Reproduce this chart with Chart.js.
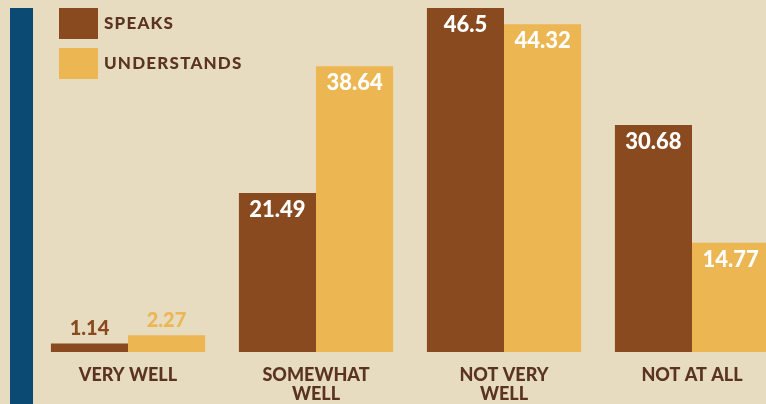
<!DOCTYPE html>
<html lang="en">
<head>
  <meta charset="UTF-8">
  <title>Speaks / Understands</title>
  <script src="https://cdn.jsdelivr.net/npm/chart.js"></script>
  <style>
    html, body { margin: 0; padding: 0; background: #e7dbc0; overflow: hidden; }
    .wrap { position: relative; width: 800px; height: 404px; }
  </style>
</head>
<body>
  <div class="wrap">
    <canvas id="grafico"></canvas>
  </div>

  <script>
    // datos
    const categorias = [["VERY WELL"], ["SOMEWHAT", "WELL"], ["NOT VERY", "WELL"], ["NOT AT ALL"]];
    const speaks = [1.14, 21.49, 46.5, 30.68];
    const understands = [2.27, 38.64, 44.32, 14.77];

    const marron = "#8a4a1f";
    const amarillo = "#ecb652";
    const texto = "#5a3421";
    const azul = "#0b4b73";

    // barra azul lateral
    const barraLateral = {
      id: "barraLateral",
      beforeDraw(chart) {
        const ctx = chart.ctx;
        ctx.save();
        ctx.fillStyle = azul;
        ctx.fillRect(10, 8, 23, chart.height - 8);
        ctx.restore();
      }
    };

    // leyenda a mano
    const leyenda = {
      id: "leyenda",
      afterDraw(chart) {
        const ctx = chart.ctx;
        ctx.save();
        chart.data.datasets.forEach((ds, i) => {
          const y = 8 + i * 40;
          ctx.fillStyle = ds.backgroundColor;
          ctx.fillRect(59, y, 39, 31);
          ctx.fillStyle = texto;
          ctx.font = "900 17px Lato";
          ctx.letterSpacing = "1.2px";
          ctx.textBaseline = "middle";
          ctx.textAlign = "left";
          ctx.fillText(ds.label, 104, y + 16);
        });
        ctx.restore();
      }
    };

    // etiquetas de valores
    const etiquetas = {
      id: "etiquetas",
      afterDatasetsDraw(chart) {
        const ctx = chart.ctx;
        ctx.save();
        ctx.textAlign = "center";
        ctx.textBaseline = "middle";
        chart.data.datasets.forEach((ds, i) => {
          chart.getDatasetMeta(i).data.forEach((bar, j) => {
            const v = ds.data[j];
            if (v < 5) {
              ctx.fillStyle = ds.backgroundColor;
              ctx.font = "900 20px Lato";
              ctx.fillText(String(v), bar.x, bar.y - 15);
            } else {
              ctx.fillStyle = "#ffffff";
              ctx.font = "900 22px Lato";
              ctx.fillText(String(v), bar.x, bar.y + 17);
            }
          });
        });
        ctx.restore();
      }
    };

    new Chart(document.getElementById("grafico"), {
      type: "bar",
      data: {
        labels: categorias,
        datasets: [
          { label: "SPEAKS", data: speaks, backgroundColor: marron },
          { label: "UNDERSTANDS", data: understands, backgroundColor: amarillo }
        ]
      },
      options: {
        responsive: true,
        maintainAspectRatio: false,
        animation: false,
        layout: { padding: { top: 8, left: 34, right: 14, bottom: 0 } },
        datasets: { bar: { categoryPercentage: 0.82, barPercentage: 1 } },
        plugins: { legend: { display: false }, tooltip: { enabled: false } },
        scales: {
          x: {
            grid: { display: false, drawTicks: false, tickLength: 0 },
            border: { display: false },
            ticks: {
              color: texto,
              font: { family: "Lato", weight: "900", size: 18, lineHeight: 1.05 },
              padding: 14,
              maxRotation: 0,
              autoSkip: false
            },
            afterFit(scale) { scale.height = 52; }
          },
          y: { display: false, min: 0, max: 46.5 }
        }
      },
      plugins: [barraLateral, leyenda, etiquetas]
    });
  </script>
</body>
</html>
